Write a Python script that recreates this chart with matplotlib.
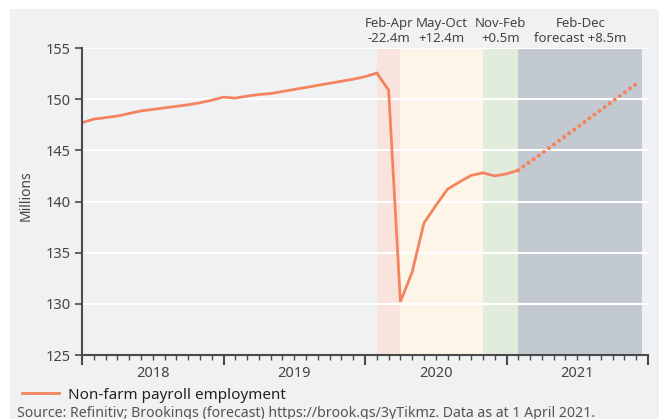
import matplotlib
matplotlib.use("Agg")
import matplotlib.pyplot as plt
from matplotlib.patches import Rectangle
from matplotlib.lines import Line2D
from matplotlib.transforms import blended_transform_factory

plt.rcParams['font.family'] = ['Noto Sans', 'DejaVu Sans']

# Monthly index: 0 = Jan 2018
actual_values = [147.7, 148.05, 148.2, 148.35, 148.6, 148.85, 149.0, 149.15, 149.3, 149.45, 149.65, 149.9,
                 150.2, 150.1, 150.3, 150.45, 150.55, 150.75, 150.95, 151.15, 151.35, 151.55, 151.75, 151.95,
                 152.2, 152.55, 150.9, 130.2, 133.1, 137.9, 139.6, 141.2, 141.9, 142.55, 142.8, 142.5,
                 142.7, 143.05]
forecast_values = [143.05, 143.9, 144.7, 145.55, 146.4, 147.25, 148.1, 148.95, 149.8, 150.65, 151.5]
forecast_start = 37  # Feb 2021

years = ['2018', '2019', '2020', '2021']
yticks = [125, 130, 135, 140, 145, 150, 155]

band_edges = [(25, 27), (27, 34), (34, 37), (37, 47.5)]
band_colors = ['#f8e4dc', '#fcf5e8', '#e2ecdd', '#c2c9d0']
band_labels = ['Feb-Apr\n-22.4m', 'May-Oct\n+12.4m', 'Nov-Feb\n+0.5m', 'Feb-Dec\nforecast +8.5m']

line_color = '#f4845f'
text_color = '#444444'

W, H = 659, 419
fig = plt.figure(figsize=(W / 100, H / 100), dpi=100, facecolor='white')
fig.patches.append(Rectangle((10 / W, 0), 1 - 10 / W, 1 - 9 / H, transform=fig.transFigure,
                             facecolor='#f0f1f3', edgecolor='none', zorder=-10))

ax = fig.add_axes([82 / W, 1 - 355 / H, (648 - 82) / W, (355 - 48) / H])
ax.set_facecolor('#f0f1f3')

for (a, b), c in zip(band_edges, band_colors):
    ax.axvspan(a, b, color=c, lw=0, zorder=0)

ax.set_ylim(125, 155)
ax.set_xlim(0, 48)
ax.set_yticks(yticks)
ax.yaxis.grid(True, color='white', lw=1.5, zorder=1)
ax.set_axisbelow(False)
for gl in ax.get_ygridlines():
    gl.set_zorder(1)

x_act = list(range(len(actual_values)))
ax.plot(x_act, actual_values, color=line_color, lw=2.0, zorder=3, solid_joinstyle='miter')
x_fc = list(range(forecast_start, forecast_start + len(forecast_values)))
ax.plot(x_fc, forecast_values, color=line_color, lw=3.0, linestyle=(0, (0.01, 1.5)),
        dash_capstyle='round', zorder=3)

for s in ['top', 'right']:
    ax.spines[s].set_visible(False)
for s in ['left', 'bottom']:
    ax.spines[s].set_color('#4a4a4a')
    ax.spines[s].set_linewidth(1.5)
    ax.spines[s].set_zorder(4)

ax.set_xticks([0, 12, 24, 36, 48])
ax.set_xticklabels([])
ax.set_xticks(range(0, 49), minor=True)
ax.tick_params(axis='x', which='major', length=7, width=1.5, color='#4a4a4a')
ax.tick_params(axis='x', which='minor', length=3.5, width=1.0, color='#4a4a4a')
ax.tick_params(axis='y', which='major', length=5, width=1.2, color='#4a4a4a',
               labelsize=10.5, labelcolor=text_color, pad=3)

tr = blended_transform_factory(ax.transData, ax.transAxes)
for i, y in enumerate(years):
    ax.text(6 + 12 * i, -0.035, y, transform=tr, ha='center', va='top', fontsize=10.5, color=text_color)

for (a, b), lab in zip(band_edges, band_labels):
    ax.text((a + b) / 2, 1.01, lab, transform=tr, ha='center', va='bottom', fontsize=9.5,
            color=text_color, linespacing=1.15)

fig.text(26 / W, 1 - 196 / H, 'Millions', rotation=90, ha='center', va='center', fontsize=10,
         color=text_color)

handle = Line2D([], [], color=line_color, lw=2.0)
fig.legend([handle], ['Non-farm payroll employment'], loc='center left',
           bbox_to_anchor=(22 / W, 1 - 395 / H), frameon=False, borderpad=0, borderaxespad=0,
           handlelength=2.4, handletextpad=0.6, fontsize=11, labelcolor='#222222')

fig.text(17 / W, 1 - 413 / H,
         'Source: Refinitiv; Brookings (forecast) https://brook.gs/3yTikmz. Data as at 1 April 2021.',
         ha='left', va='center', fontsize=10.2, color='#555555')

fig.savefig('out.png', dpi=100, facecolor=fig.get_facecolor())
